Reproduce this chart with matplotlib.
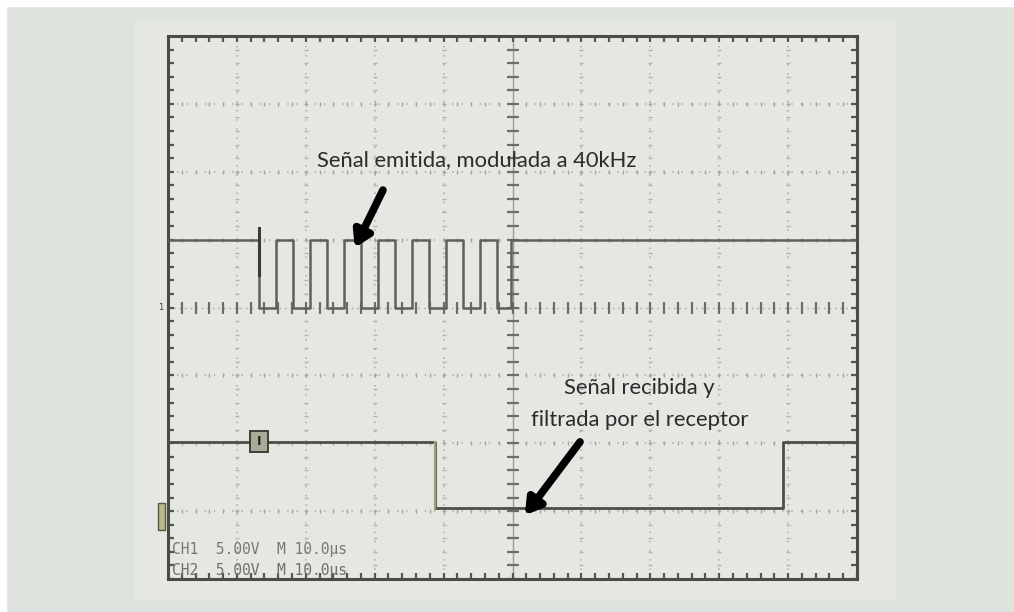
import numpy as np
import matplotlib
matplotlib.use("Agg")
import matplotlib.pyplot as plt
from matplotlib.patches import Rectangle

# ---------------- data (in oscilloscope divisions) ----------------
# Channel 1: emitted signal, modulated at 40 kHz
ch1_x = [0.0, 1.32, 1.57, 1.81, 2.06, 2.31, 2.55, 2.80, 3.05, 3.30, 3.54,
         3.79, 4.04, 4.28, 4.53, 4.78, 4.98, 10.0]
ch1_y = [5.0, 4.0, 5.0, 4.0, 5.0, 4.0, 5.0, 4.0, 5.0, 4.0, 5.0,
         4.0, 5.0, 4.0, 5.0, 4.0, 5.0, 5.0]
ch1_glitch_x = [1.32, 1.32]
ch1_glitch_y = [5.17, 4.48]
# Channel 2: received and filtered signal
ch2_x = [0.0, 3.87, 8.93, 10.0]
ch2_y = [2.02, 1.05, 2.02, 2.02]

label_emit = "Señal emitida, modulada a 40kHz"
label_recv = "Señal recibida y\nfiltrada por el receptor"
readout = ["CH1  5.00V  M 10.0µs", "CH2  5.00V  M 10.0µs"]

# ---------------- figure ----------------
W, H = 1014, 612
fig = plt.figure(figsize=(W / 100, H / 100), dpi=100, facecolor="#dfe3de")
# white strips at top and left of the scan
fig.patches.append(Rectangle((0, 1 - 6 / H), 1, 6 / H, transform=fig.transFigure,
                             color="white", zorder=-5))
fig.patches.append(Rectangle((0, 0), 6 / W, 1, transform=fig.transFigure,
                             color="white", zorder=-5))
# slightly lighter screen area
fig.patches.append(Rectangle((135 / W, 1 - 600 / H), 760 / W, 580 / H,
                             transform=fig.transFigure, color="#e4e7e2", zorder=-5))

ax = fig.add_axes([168 / W, 1 - 579 / H, (857 - 168) / W, (579 - 36) / H])
ax.set_zorder(1)
ax.set_xlim(0, 10)
ax.set_ylim(0, 8)
ax.set_facecolor("none")
ax.set_xticks([])
ax.set_yticks([])
for s in ax.spines.values():
    s.set_color("#4a4a48")
    s.set_linewidth(2.2)

minor = np.arange(0, 10.01, 0.2)
minor_y = np.arange(0, 8.01, 0.2)

# dotted graticule
for gx in range(1, 10):
    if gx == 5:
        continue
    ax.plot([gx, gx], [0, 8], ls=(0, (1, 5)), color="#a8aba6", lw=1.1, zorder=1)
    ax.plot(np.full_like(minor_y, gx), minor_y, ls="none", marker="_",
            ms=3, color="#b0b3ae", mew=1, zorder=1)
for gy in range(1, 8):
    if gy == 4:
        continue
    ax.plot([0, 10], [gy, gy], ls=(0, (1, 5)), color="#a8aba6", lw=1.1, zorder=1)
    ax.plot(minor, np.full_like(minor, gy), ls="none", marker="|",
            ms=3, color="#a0a39e", mew=1, zorder=1)

# center cross with ticks
ax.plot([5, 5], [0, 8], color="#9a9d98", lw=1.0, zorder=1)
ax.plot([0, 10], [4, 4], color="#9a9d98", lw=1.0, ls=(0, (1, 3)), zorder=1)
ax.plot(np.full_like(minor_y, 5), minor_y, ls="none", marker="_", ms=8,
        color="#6a6d68", mew=1.6, zorder=2)
ax.plot(minor, np.full_like(minor, 4), ls="none", marker="|", ms=8,
        color="#6a6d68", mew=1.6, zorder=2)

# frame ticks (inward, half clipped)
for yy in (0, 8):
    ax.plot(minor, np.full_like(minor, yy), ls="none", marker="|", ms=9,
            color="#555", mew=1.6, zorder=2)
for xx in (0, 10):
    ax.plot(np.full_like(minor_y, xx), minor_y, ls="none", marker="_", ms=9,
            color="#555", mew=1.6, zorder=2)

# ---------------- traces ----------------
ax.step(ch1_x, ch1_y, where="post", color="#5e605b", lw=1.8, zorder=3)
ax.plot(ch1_glitch_x, ch1_glitch_y, color="#3a3b38", lw=2.2, zorder=3)
ax.step(ch2_x, ch2_y, where="post", color="#4d4f44", lw=2.0, zorder=3)
# olive tint on the falling edge of channel 2
ax.plot([ch2_x[1], ch2_x[1]], [ch2_y[0], ch2_y[1]], color="#a3a37a", lw=1.6, zorder=3)

# trigger marker on channel 2
ax.add_patch(Rectangle((1.19, 1.87), 0.26, 0.31, facecolor="#a9ab98",
                       edgecolor="#3f403a", lw=1.4, zorder=4))
ax.text(1.32, 2.02, "I", ha="center", va="center", fontsize=9,
        color="#222", fontweight="bold", zorder=5)
# channel markers on the left edge
ax.add_patch(Rectangle((-0.15, 0.72), 0.11, 0.40, facecolor="#b9b98c",
                       edgecolor="#5a5a40", lw=1, zorder=4, clip_on=False))
ax.text(-0.11, 4.0, "1", ha="center", va="center", fontsize=6,
        color="#444", clip_on=False)

# ---------------- annotations ----------------
ax.text(4.48, 6.17, label_emit, ha="center", va="center", fontsize=15.8,
        family="Lato", color="#2b2b2b", zorder=6)
ax.text(6.84, 2.58, label_recv, ha="center", va="center", fontsize=15.8,
        family="Lato", color="#2b2b2b", linespacing=1.75, zorder=6)

arrow_kw = dict(arrowstyle="-|>,head_length=0.9,head_width=0.55",
                color="black", lw=5.5, shrinkA=0, shrinkB=0)
ax.annotate("", xy=(2.71, 4.88), xytext=(3.12, 5.73),
            arrowprops=arrow_kw, zorder=6)
ax.annotate("", xy=(5.18, 0.94), xytext=(5.98, 2.02),
            arrowprops=arrow_kw, zorder=6)

# readout text
ax.text(0.06, 0.43, readout[0], ha="left", va="center", fontsize=10.5,
        family="DejaVu Sans Mono", color="#777a74", zorder=5)
ax.text(0.06, 0.13, readout[1], ha="left", va="center", fontsize=10.5,
        family="DejaVu Sans Mono", color="#6f726c", zorder=5)

fig.savefig("out.png", dpi=100, facecolor=fig.get_facecolor())
